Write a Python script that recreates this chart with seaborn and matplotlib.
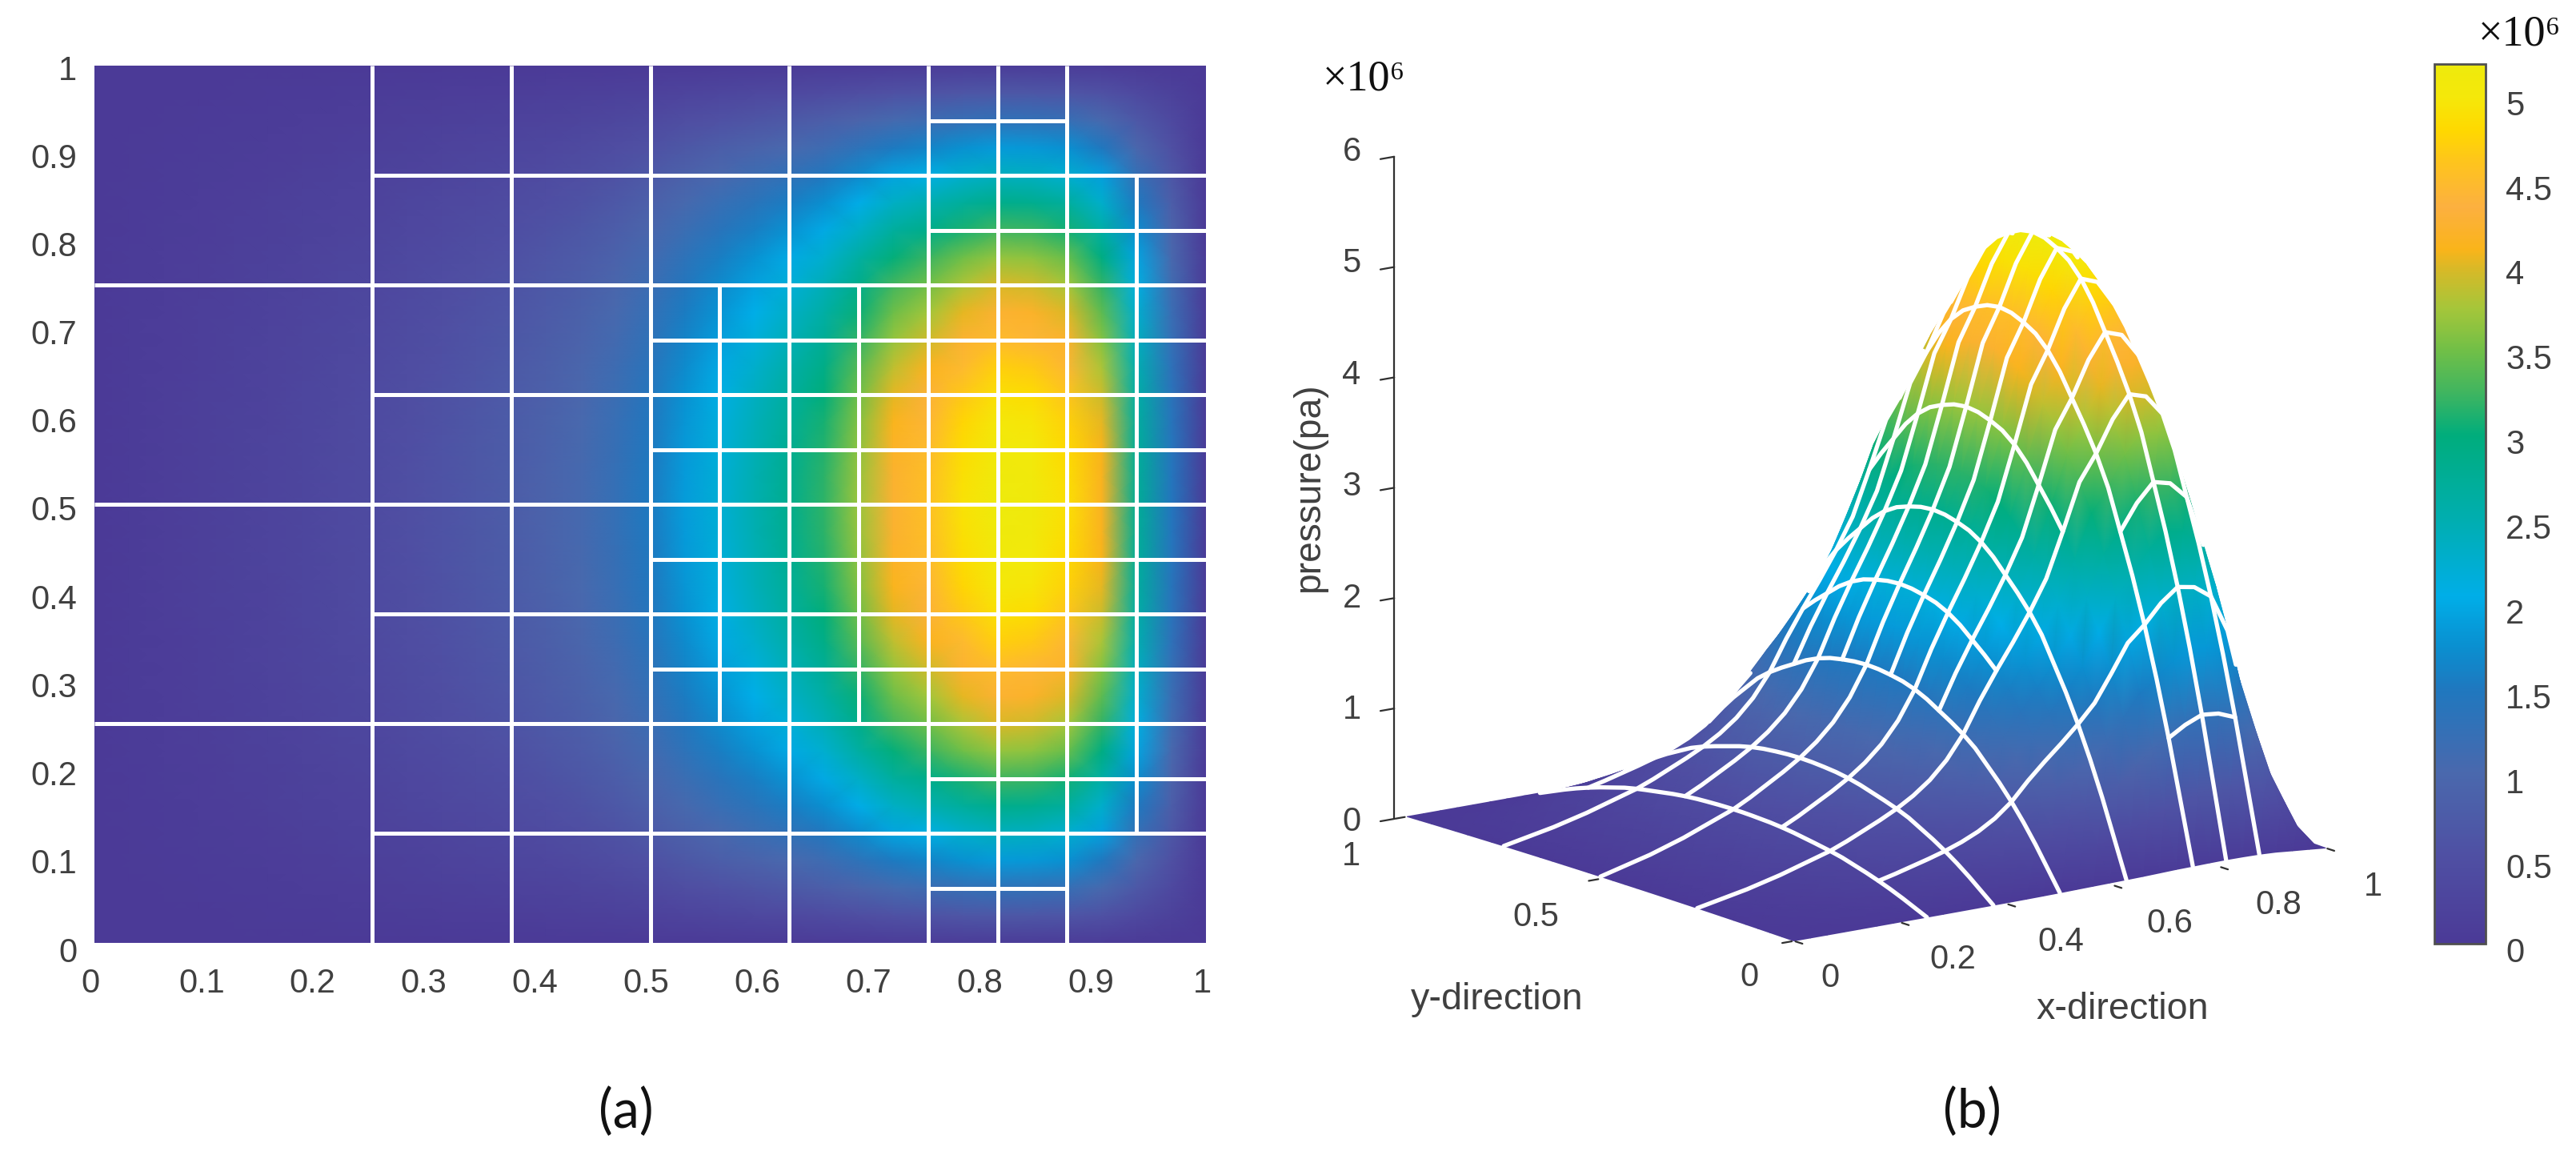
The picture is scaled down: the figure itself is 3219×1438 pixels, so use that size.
import numpy as np
import matplotlib
matplotlib.use("Agg")
import matplotlib.pyplot as plt
import matplotlib.tri as mtri
import seaborn as sns
from matplotlib.colors import LinearSegmentedColormap
from matplotlib.transforms import ScaledTranslation
from mpl_toolkits.mplot3d import proj3d

# ---- data ----
# pressure (in 1e6 Pa) along y = 0.5, at x = k/32
pressure_along_x = [0.02, 0.06, 0.10, 0.14, 0.19, 0.24, 0.30, 0.36, 0.42, 0.50, 0.59,
                    0.68, 0.78, 0.90, 1.05, 1.25, 1.52, 1.88, 2.20, 2.50, 2.82, 3.18,
                    3.70, 4.25, 4.55, 4.92, 5.18, 5.12, 4.88, 4.15, 2.75, 1.45, 0.03]
# relative pressure across the film, at y = k/32
relative_along_y = [0.01, 0.13, 0.25, 0.36, 0.46, 0.55, 0.63, 0.71, 0.77, 0.82, 0.865,
                    0.91, 0.945, 0.97, 0.985, 0.996, 1.00, 0.996, 0.985, 0.97, 0.945, 0.91,
                    0.865, 0.82, 0.77, 0.71, 0.63, 0.55, 0.46, 0.36, 0.25, 0.13, 0.01]
# adaptive mesh lines: (position, start, end)
vertical_lines = [(0.25, 0, 1), (0.375, 0, 1), (0.5, 0, 1), (0.625, 0, 1), (0.75, 0, 1),
                  (0.8125, 0, 1), (0.875, 0, 1), (0.5625, 0.25, 0.75), (0.6875, 0.25, 0.75),
                  (0.9375, 0.125, 0.875)]
horizontal_lines = [(0.25, 0, 1), (0.5, 0, 1), (0.75, 0, 1), (0.125, 0.25, 1), (0.875, 0.25, 1),
                    (0.375, 0.25, 1), (0.625, 0.25, 1), (0.0625, 0.75, 0.875), (0.9375, 0.75, 0.875),
                    (0.1875, 0.75, 1), (0.8125, 0.75, 1), (0.3125, 0.5, 1), (0.4375, 0.5, 1),
                    (0.5625, 0.5, 1), (0.6875, 0.5, 1)]
panel_a_ticks = [0, 0.1, 0.2, 0.3, 0.4, 0.5, 0.6, 0.7, 0.8, 0.9, 1]
panel_a_labels = ["0", "0.1", "0.2", "0.3", "0.4", "0.5", "0.6", "0.7", "0.8", "0.9", "1"]
colorbar_ticks = [0, 0.5, 1, 1.5, 2, 2.5, 3, 3.5, 4, 4.5, 5]
colorbar_labels = ["0", "0.5", "1", "1.5", "2", "2.5", "3", "3.5", "4", "4.5", "5"]
z_ticks = [0, 1, 2, 3, 4, 5, 6]
x_ticks_3d = [0, 0.2, 0.4, 0.6, 0.8, 1]
x_labels_3d = ["0", "0.2", "0.4", "0.6", "0.8", "1"]
y_ticks_3d = [0, 0.5, 1]
y_labels_3d = ["0", "0.5", "1"]

# ---- style ----
W, H = 3219, 1438
VMAX = 5.19
GREY = "#404040"
stops = [(0, "#4b3a97"), (0.5, "#4f4fa3"), (1, "#4a68ad"), (1.5, "#1f78bf"), (1.75, "#0a8fd0"),
         (2.05, "#00aee8"), (2.5, "#00aeb0"), (3, "#00ad7c"), (3.25, "#3fb560"), (3.5, "#70bf47"),
         (3.75, "#a5c63a"), (4, "#dcb826"), (4.1, "#fab41a"), (4.35, "#fcb040"), (4.6, "#fec31f"),
         (4.8, "#ffd800"), (5, "#f5e80a"), (5.19, "#eeea0c")]
cmap = LinearSegmentedColormap.from_list("film", [(v / VMAX, c) for v, c in stops], N=512)

sns.set_style("white")
plt.rcParams["font.family"] = ["Liberation Sans", "DejaVu Sans"]
fig = plt.figure(figsize=(W / 200, H / 200), dpi=200)


def rect(x0, y0, x1, y1):
    return [x0 / W, 1 - y1 / H, (x1 - x0) / W, (y1 - y0) / H]


px = np.array(pressure_along_x)
py = np.array(relative_along_y)
field = np.outer(py, px)
n = len(px) - 1

# ---- panel (a) ----
ax = fig.add_axes(rect(118, 82, 1507, 1178))
cax = fig.add_axes(rect(3042, 80, 3106, 1179))
sns.heatmap(field, cmap=cmap, vmin=0, vmax=VMAX, ax=ax, cbar=True, cbar_ax=cax,
            xticklabels=False, yticklabels=False, shading="gouraud",
            cbar_kws={"ticks": colorbar_ticks})
ax.set_xlim(0, n)
ax.set_ylim(0, n)
for pos, a, b in vertical_lines:
    ax.vlines(pos * n, a * n, b * n, color="white", lw=1.8)
for pos, a, b in horizontal_lines:
    ax.hlines(pos * n, a * n, b * n, color="white", lw=1.8)
ax.set_xticks([t * n for t in panel_a_ticks], panel_a_labels)
ax.set_yticks([t * n for t in panel_a_ticks], panel_a_labels)
ax.tick_params(length=0, labelsize=15, labelcolor=GREY, bottom=True, left=True,
               labelbottom=True, labelleft=True)
ax.tick_params(axis="x", pad=11)
ax.tick_params(axis="y", pad=7.8)
for lab in ax.get_xticklabels():
    lab.set_transform(lab.get_transform() + ScaledTranslation(-5 / 200, 0, fig.dpi_scale_trans))
for t, lab in zip(panel_a_ticks, ax.get_yticklabels()):
    lab.set_transform(lab.get_transform()
                      + ScaledTranslation(0, -(2 + 6 * (1 - t)) / 200, fig.dpi_scale_trans))
for s in ax.spines.values():
    s.set_visible(False)

# ---- colour bar ----
cb = ax.collections[0].colorbar
cb.set_ticks(colorbar_ticks, labels=colorbar_labels)
cb.outline.set_linewidth(1.0)
cb.outline.set_edgecolor("#505050")
cax.tick_params(direction="in", length=4, width=0.8, color="#202020", labelsize=15,
                labelcolor=GREY, pad=9, right=True, left=False)
for lab in cax.get_yticklabels():
    lab.set_transform(lab.get_transform() + ScaledTranslation(0, -8 / 200, fig.dpi_scale_trans))

# ---- panel (b) ----
elev, azim = 13.7, -126.4
CX, CY, HALF = 2315.5, 643, 620
panel_rect = rect(CX - HALF, CY - HALF, CX + HALF, CY + HALF)
ax_flat = fig.add_axes(panel_rect, zorder=1)
ax3 = fig.add_axes(panel_rect, projection="3d", computed_zorder=False, zorder=2)
ax3.set_proj_type("ortho")
ax3.view_init(elev=elev, azim=azim)
ax3.set_box_aspect((832, 821, 858), zoom=1.1266)
ax3.set_xlim(0, 1, view_margin=0)
ax3.set_ylim(0, 1, view_margin=0)
ax3.set_zlim(0, 6, view_margin=0)
ax3.set_axis_off()
ax3.patch.set_alpha(0)
M = ax3.get_proj()
ax_flat.set_xlim(*ax3.viewLim.intervalx)
ax_flat.set_ylim(*ax3.viewLim.intervaly)
ax_flat.set_axis_off()

# surface: smooth-shaded triangles painted far to near
knots = np.linspace(0, 1, n + 1)
X, Y = np.meshgrid(knots, knots)
tx, ty, tz = proj3d.proj_transform(X.ravel(), Y.ravel(), field.ravel(), M)
tris = []
for j in range(n):
    for i in range(n):
        a, b, c, d = j * (n + 1) + i, j * (n + 1) + i + 1, (j + 1) * (n + 1) + i, (j + 1) * (n + 1) + i + 1
        tris.append((a, b, d))
        tris.append((a, d, c))
tris = np.array(tris)
tris = tris[np.argsort(-tz[tris].mean(axis=1))]
ax_flat.tripcolor(mtri.Triangulation(tx, ty, tris), field.ravel(), shading="gouraud",
                  cmap=cmap, vmin=0, vmax=VMAX)


def height(x, y):
    fx = np.clip(x, 0, 1) * n
    fy = np.clip(y, 0, 1) * n
    i = np.minimum(fx.astype(int), n - 1)
    j = np.minimum(fy.astype(int), n - 1)
    u, v = fx - i, fy - j
    return (field[j, i] * (1 - u) * (1 - v) + field[j, i + 1] * u * (1 - v)
            + field[j + 1, i] * (1 - u) * v + field[j + 1, i + 1] * u * v)


# direction towards the viewer, in data units
ce = np.cos(np.radians(elev))
view = np.array([np.cos(np.radians(azim)) * ce / 832, np.sin(np.radians(azim)) * ce / 821,
                 np.sin(np.radians(elev)) / 143])
steps = np.linspace(2.0, 1400, 350)[:, None]


def draw_visible(xs, ys):
    zs = height(xs, ys)
    rx = xs + steps * view[0]
    ry = ys + steps * view[1]
    rz = zs + steps * view[2]
    inside = (rx >= 0) & (rx <= 1) & (ry >= 0) & (ry <= 1)
    hidden = ((height(rx, ry) > rz + 0.015) & inside).any(axis=0)
    start = 0
    for k in range(1, len(xs) + 1):
        if k == len(xs) or hidden[k] != hidden[start]:
            if not hidden[start] and k - start > 1:
                ax3.plot(xs[start:k], ys[start:k], zs[start:k], color="white", lw=1.9,
                         zorder=3, solid_capstyle="round")
            start = k


for pos, a, b in vertical_lines:
    t = np.linspace(a, b, int((b - a) * n * 4) + 1)
    draw_visible(np.full_like(t, pos), t)
for pos, a, b in horizontal_lines:
    t = np.linspace(a, b, int((b - a) * n * 4) + 1)
    draw_visible(t, np.full_like(t, pos))


def tick_text(x, y, z, s, ha="center"):
    sx, sy, _ = proj3d.proj_transform(x, y, z, M)
    ax_flat.text(sx, sy, s, fontsize=15, color=GREY, ha=ha, va="center", clip_on=False)


# axis furniture
AXC = "#303030"
ZX = -0.024
ax3.plot([ZX, ZX], [1, 1], [0, 6], color=AXC, lw=0.8, zorder=4)
for z in z_ticks:
    ax3.plot([ZX, ZX - 0.026], [1, 1], [z, z], color=AXC, lw=0.8, zorder=4)
    tick_text(ZX - 0.08, 1, z * 1.012 + 0.04, str(z))
for x, lab in zip(x_ticks_3d, x_labels_3d):
    ax3.plot([x, x], [-0.004, -0.022], [0, 0], color=AXC, lw=0.8, zorder=4)
    tick_text(x * 1.02, -0.07, -0.26 - 0.03 * x, lab, ha="left")
for y, lab in zip(y_ticks_3d, y_labels_3d):
    ax3.plot([-0.004, -0.022], [y, y], [0, 0], color=AXC, lw=0.8, zorder=4)
    tick_text(-0.067 - 0.021 * y, y, -0.27 - 0.02 * y, lab, ha="right")


# ---- free text ----
def label(x, y, s, **kw):
    fig.text(x / W, 1 - y / H, s, ha="center", va="center", **kw)


label(1871, 1249, "y-direction", fontsize=16.8, color=GREY)
label(2652, 1261, "x-direction", fontsize=16.8, color=GREY)
label(1636, 609, "pressure(pa)", fontsize=16.6, color=GREY, rotation=90)
serif = ["Liberation Serif", "DejaVu Serif"]
label(1704, 99, "×10⁶", fontsize=19.5, color="#101010", family=serif)
label(3148, 43, "×10⁶", fontsize=19.5, color="#101010", family=serif)
label(782, 1390, "(a)", fontsize=24, color="#111111", family=["Lato"])
label(2464, 1390, "(b)", fontsize=24, color="#111111", family=["Lato"])

fig.savefig("out.png", dpi=200, facecolor="white")
